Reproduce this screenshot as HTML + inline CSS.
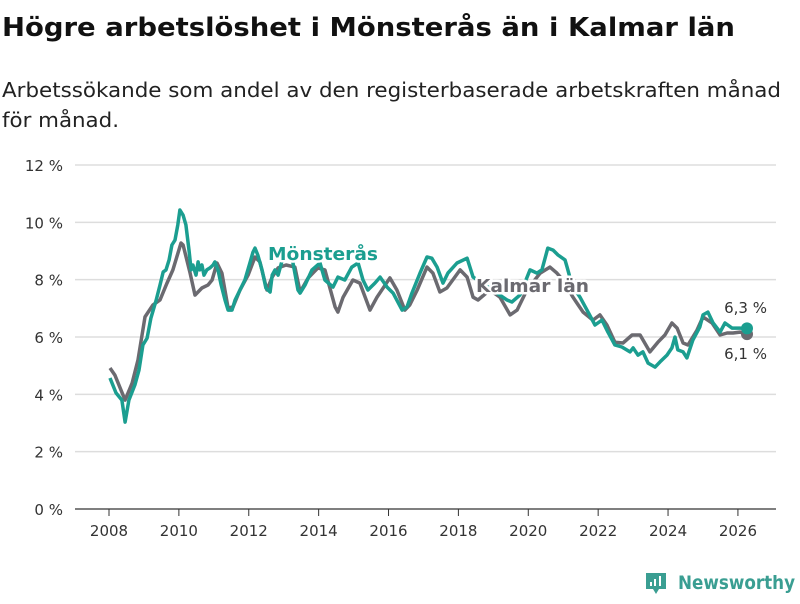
<!DOCTYPE html>
<html><head><meta charset="utf-8"><style>
body{margin:0;background:#fff;font-family:"DejaVu Sans","Liberation Sans",sans-serif;}
svg text{font-family:"DejaVu Sans","Liberation Sans",sans-serif;}
</style></head><body>
<svg id="chart" width="800" height="600" viewBox="0 0 800 600">
<text x="2" y="36" font-size="26" font-weight="bold" fill="#111" textLength="733" lengthAdjust="spacingAndGlyphs">Högre arbetslöshet i Mönsterås än i Kalmar län</text>
<text x="2" y="97" font-size="20" fill="#222" textLength="779" lengthAdjust="spacingAndGlyphs">Arbetssökande som andel av den registerbaserade arbetskraften månad</text>
<text x="2" y="127" font-size="20" fill="#222" textLength="117" lengthAdjust="spacingAndGlyphs">för månad.</text>
<g id="grid"></g><g id="series"></g><g id="labels"></g>
<g>
<path d="M646 573h20v16h-7l-3 5-3-5h-7z" fill="#3a9e92"/>
<rect x="650" y="582" width="2" height="4" fill="#fff"/><rect x="654" y="579" width="2" height="7" fill="#fff"/><rect x="659" y="576" width="2" height="10" fill="#fff"/>
<text x="678" y="589" font-size="19" font-weight="bold" fill="#3a9e92" textLength="117" lengthAdjust="spacingAndGlyphs">Newsworthy</text>
</g>
</svg>
<script>
const yTicks=[0,2,4,6,8,10,12];
const xTicks=[2008,2010,2012,2014,2016,2018,2020,2022,2024,2026];
const monsYears=[0.03,0.20,0.37,0.46,0.57,0.74,0.86,0.97,1.09,1.20,1.35,1.46,1.55,1.63,1.72,1.80,1.89,1.97,2.03,2.12,2.20,2.29,2.35,2.40,2.49,2.55,2.60,2.66,2.72,2.80,2.89,2.98,3.03,3.12,3.21,3.32,3.41,3.52,3.61,3.75,3.89,4.04,4.12,4.18,4.26,4.38,4.49,4.61,4.67,4.75,4.84,4.92,5.04,5.24,5.41,5.47,5.61,5.81,6.04,6.18,6.41,6.55,6.75,6.95,7.13,7.27,7.41,7.61,7.76,7.96,8.13,8.39,8.53,8.67,8.90,9.10,9.24,9.39,9.56,9.70,9.96,10.25,10.42,10.76,11.10,11.39,11.53,11.76,12.05,12.25,12.39,12.56,12.71,12.85,13.05,13.11,13.25,13.48,13.68,13.91,14.11,14.28,14.48,14.68,14.91,15.00,15.14,15.28,15.43,15.63,15.77,15.97,16.11,16.20,16.28,16.43,16.54,16.71,16.91,17.00,17.14,17.29,17.49,17.63,17.83,18.06,18.26];
const monsValues=[4.57,4.05,3.80,3.03,3.80,4.33,4.85,5.72,5.96,6.66,7.29,7.81,8.27,8.34,8.69,9.21,9.38,9.91,10.43,10.25,9.91,9.03,8.34,8.51,8.16,8.62,8.34,8.51,8.16,8.34,8.41,8.51,8.62,8.34,7.81,7.29,6.94,6.94,7.29,7.64,7.99,8.62,8.96,9.10,8.86,8.34,7.71,7.57,8.16,8.34,8.16,8.51,9.03,8.75,7.64,7.53,7.81,8.34,8.58,7.99,7.74,8.09,7.99,8.44,8.58,7.99,7.64,7.88,8.09,7.74,7.53,6.94,7.05,7.53,8.23,8.79,8.75,8.44,7.88,8.23,8.58,8.75,8.09,7.81,7.53,7.29,7.22,7.46,8.34,8.23,8.34,9.10,9.03,8.86,8.69,8.44,7.81,7.39,6.94,6.42,6.59,6.17,5.72,5.65,5.48,5.62,5.37,5.48,5.09,4.95,5.13,5.37,5.62,6.00,5.55,5.48,5.27,5.89,6.35,6.77,6.87,6.49,6.17,6.49,6.31,6.31,6.3];
const kalYears=[0.03,0.17,0.46,0.66,0.83,1.03,1.26,1.46,1.66,1.83,2.06,2.12,2.32,2.46,2.66,2.83,2.95,3.09,3.23,3.41,3.55,3.75,3.98,4.18,4.32,4.52,4.67,4.84,5.07,5.32,5.47,5.70,5.98,6.18,6.47,6.55,6.70,6.98,7.18,7.47,7.67,8.04,8.24,8.47,8.61,8.82,9.10,9.27,9.47,9.67,10.05,10.25,10.42,10.56,10.90,11.19,11.48,11.68,11.96,12.34,12.62,12.82,12.99,13.28,13.39,13.57,13.85,14.05,14.25,14.48,14.71,14.97,15.20,15.48,15.71,15.91,16.11,16.26,16.43,16.57,16.83,17.00,17.26,17.49,17.69,17.86,18.06,18.26];
const kalValues=[4.92,4.67,3.80,4.39,5.20,6.70,7.12,7.29,7.88,8.34,9.28,9.21,8.23,7.46,7.71,7.81,7.99,8.58,8.23,7.01,7.05,7.64,8.16,8.79,8.62,7.64,8.09,8.41,8.51,8.44,7.57,8.06,8.41,8.34,7.05,6.87,7.39,7.99,7.88,6.94,7.39,8.06,7.64,6.94,7.12,7.64,8.44,8.23,7.57,7.71,8.34,8.09,7.39,7.29,7.64,7.39,6.77,6.94,7.64,8.23,8.44,8.23,7.99,7.39,7.19,6.87,6.59,6.77,6.42,5.82,5.79,6.07,6.07,5.48,5.82,6.07,6.49,6.31,5.79,5.72,6.24,6.70,6.49,6.07,6.14,6.14,6.17,6.1];
const NS='http://www.w3.org/2000/svg';
const X=y=>109+(y-2008)*34.94;
const Y=v=>509-v*28.667;
function mk(t,a,p){const e=document.createElementNS(NS,t);for(const k in a)e.setAttribute(k,a[k]);p.appendChild(e);return e;}
const grid=document.getElementById('grid');
yTicks.forEach(v=>{
 const l=mk('line',{x1:75,x2:776,y1:Y(v),y2:Y(v),stroke:v===0?'#333':'#ddd','stroke-width':v===0?1.3:1.5},grid);
 
 
 const t=mk('text',{x:63,y:Y(v)+6,'font-size':15,'text-anchor':'end',fill:'#333'},grid);
 t.textContent=v+' %';
 
 
});
xTicks.forEach(yr=>{
 const l=mk('line',{x1:X(yr),x2:X(yr),y1:509,y2:516,stroke:'#333'},grid);
 
 
 const t=mk('text',{x:X(yr),y:536,'font-size':15,'text-anchor':'middle',fill:'#333'},grid);
 t.textContent=yr;
 
 
});
const ser=document.getElementById('series');
function line(ys,vs,c,name){
 const d=ys.map((y,i)=>(i?'L':'M')+X(2008+y).toFixed(1)+' '+Y(vs[i]).toFixed(1)).join('');
 const p=mk('path',{d:d,fill:'none',stroke:c,'stroke-width':3.5,'stroke-linejoin':'round'},ser);
 
 
 const n=ys.length-1;
 const c2=mk('circle',{cx:X(2008+ys[n]),cy:Y(vs[n]),r:6,fill:c},ser);
 
 
}
line(kalYears,kalValues,'#6b6a70','kalmar-lan-line');
line(monsYears,monsValues,'#1b9e90','monsteras-line');
const lab=document.getElementById('labels');
function txt(x,y,s,c,sz,w,name,anchor,len){
 const a={x:x,y:y,'font-size':sz,'font-weight':w,fill:c,stroke:'#fff','stroke-width':5,'paint-order':'stroke','stroke-linejoin':'round','text-anchor':anchor||'start'};
 if(len){a.textLength=len;a.lengthAdjust='spacingAndGlyphs';}
 const t=mk('text',a,lab);
 t.textContent=s;
 
 
}
txt(268,260,'Mönsterås','#1b9e90',18,'bold','monsteras-label','start',110);
txt(476,292,'Kalmar län','#6b6a70',18,'bold','kalmar-lan-label','start',113);
txt(767,313,'6,3 %','#333',15,'normal','monsteras-end-value','end');
txt(767,359,'6,1 %','#333',15,'normal','kalmar-end-value','end');
</script>
</body></html>
